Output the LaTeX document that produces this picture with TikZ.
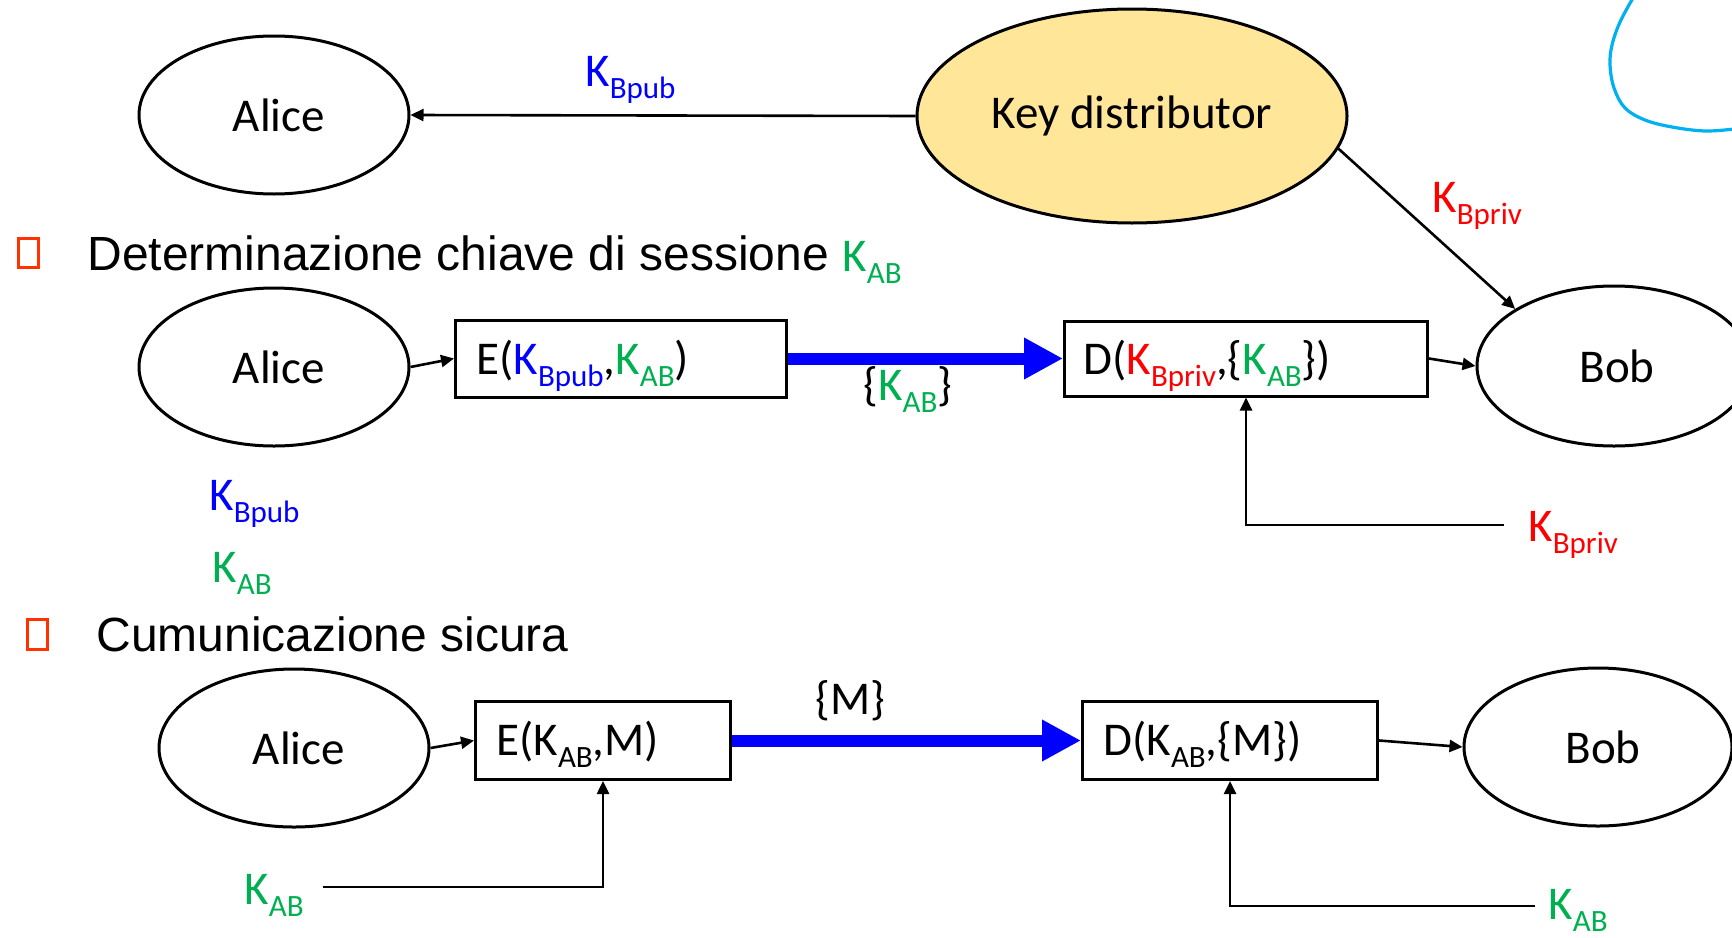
\documentclass[tikz,border=0pt]{standalone}
\usepackage{fontspec}
\setmainfont{Carlito}
\newfontfamily\arialf{Liberation Sans}
\usetikzlibrary{shapes.geometric,arrows.meta}
\definecolor{kblue}{HTML}{0000FF}
\definecolor{kgreen}{HTML}{00B050}
\definecolor{kred}{HTML}{FF0000}
\definecolor{kdfill}{HTML}{FFE699}
\definecolor{bulletred}{HTML}{FF3300}
\definecolor{inkblue}{HTML}{00B0F0}
\newcommand\fmain{\fontsize{23.5pt}{28pt}\selectfont}
\newcommand\sbs[1]{\raisebox{-6pt}{\fontsize{15.5pt}{16pt}\selectfont #1}}
\newcommand\KBpub{{\color{kblue}K\sbs{Bpub}}}
\newcommand\KBpriv{{\color{kred}K\sbs{Bpriv}}}
\newcommand\KABg{{\color{kgreen}K\sbs{AB}}}
\newcommand\KABk{K\sbs{AB}}
\tikzset{
  actor/.style={ellipse, draw, line width=1.5pt, minimum width=135pt, minimum height=79pt, inner sep=0pt},
  kbox/.style={rectangle, draw, line width=1.5pt, inner sep=0pt, anchor=west},
  conn/.style={line width=1.3pt, -{Triangle[length=6.5pt,width=6pt]}},
  fat/.style={draw=kblue, line width=6pt, -{Triangle[length=19.5pt,width=19.5pt]}},
  lbl/.style={inner sep=0pt, anchor=base west},
  bul/.style={draw=bulletred, line width=1.5pt},
  head/.style={inner sep=0pt, anchor=base west, font=\arialf\fontsize{24pt}{28pt}\selectfont},
}
\begin{document}
\begin{tikzpicture}[x=0.5pt,y=-0.5pt,font=\fmain]
\useasboundingbox (0,0) rectangle (1732,937);
% row 1
\node[actor] (a1) at (274,115) {\hspace*{5pt}Alice};
\node[actor, fill=kdfill, minimum width=215pt, minimum height=107pt] (kd) at (1132,116) {\raisebox{-1pt}{Key distributor}};
\draw[conn] (kd.west) -- (a1.east);
\node[lbl] (lkb1) at (585,86) {\KBpub};
\node[lbl] (lkp1) at (1432,212) {\KBpriv};
\draw[inkblue, line width=1.6pt, line cap=round] plot[smooth, tension=0.6] coordinates {(1633,-2) (1620,22) (1612,45) (1610,65) (1614,88) (1625,108) (1645,120) (1672,127) (1705,131) (1734,129)};
% heading 1
\draw[bul] (18.5,238.5) rectangle (38.5,267.5);
\node[head] (h1) at (87,270) {Determinazione chiave di sessione};
\node[lbl] (hk) at (842,271) {\KABg};
% row 2
\node[actor] (a2) at (274,367) {\hspace*{5pt}Alice};
\node[kbox, minimum width=165.5pt, minimum height=38.5pt] (e2) at (454,358.5) {};
\node[lbl] (e2t) at (476,374) {E(\KBpub,\KABg)};
\node[kbox, minimum width=181.5pt, minimum height=37.5pt] (d2) at (1063,358.5) {};
\node[lbl] (d2t) at (1083,374) {D(\KBpriv,\{\KABg\})};
\node[actor, minimum width=137pt, minimum height=80pt] (b2) at (1614,366) {\hspace*{3pt}Bob};
\draw[conn] (kd.-9.5) -- (b2.150);
\draw[conn] (a2.east) -- (e2.west);
\draw[fat] (e2.east) -- (d2.west);
\node[lbl] (lk2) at (863,400) {\{\KABg\}};
\draw[conn] (d2.east) -- (b2.west);
\node[lbl] (kp2) at (1528,541) {\KBpriv};
\coordinate (kp2e) at (1504,525);
\draw[conn] (kp2e) -| (d2.south);
\node[lbl] (fk1) at (209,510) {\KBpub};
\node[lbl] (fk2) at (212,582) {\KABg};
% heading 2
\draw[bul] (27.5,619.5) rectangle (47.5,649.5);
\node[head] (h2) at (96,651) {Cumunicazione sicura};
% row 3
\node[actor] (a3) at (294,748) {\hspace*{5pt}Alice};
\node[kbox, minimum width=127.5pt, minimum height=39pt] (e3) at (474,740.5) {};
\node[lbl] (e3t) at (496,755) {E(\KABk,M)};
\node[kbox, minimum width=147.5pt, minimum height=39pt] (d3) at (1081,740.5) {};
\node[lbl] (d3t) at (1103,755) {D(\KABk,\{M\})};
\node[actor, minimum width=134pt] (b3) at (1598,747) {\hspace*{5pt}Bob};
\draw[conn] (a3.east) -- (e3.west);
\draw[fat] (e3.east) -- (d3.west);
\node[lbl] (lm) at (815,714) {\{M\}};
\draw[conn] (d3.east) -- (b3.west);
\node[lbl] (k3a) at (244,904) {\KABg};
\coordinate (k3ae) at (323,887);
\draw[conn] (k3ae) -| (e3.south);
\node[lbl] (k3b) at (1548,919) {\KABg};
\coordinate (k3be) at (1535,906);
\draw[conn] (k3be) -| (d3.south);
\end{tikzpicture}
\end{document}
